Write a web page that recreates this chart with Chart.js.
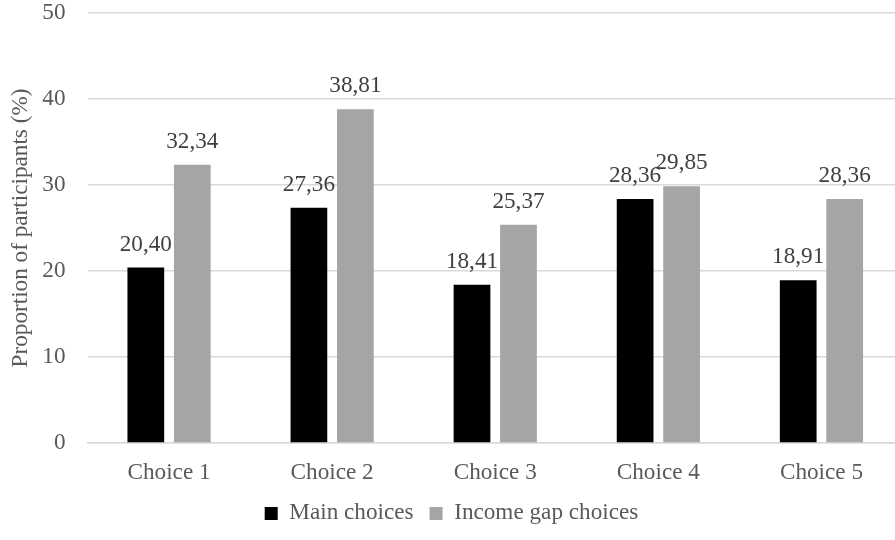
<!DOCTYPE html>
<html>
<head>
<meta charset="utf-8">
<script src="https://cdn.jsdelivr.net/npm/chart.js@4/dist/chart.umd.min.js"></script>
<style>
  html, body { margin: 0; padding: 0; background: #fff; overflow: hidden; }
  #wrap { width: 905px; height: 540px; position: relative; }
</style>
</head>
<body>
<div id="wrap"><canvas id="chart"></canvas></div>
<script>
const categories = ['Choice 1', 'Choice 2', 'Choice 3', 'Choice 4', 'Choice 5'];
const mainChoices = [20.40, 27.36, 18.41, 28.36, 18.91];
const incomeGapChoices = [32.34, 38.81, 25.37, 29.85, 28.36];
const yTicks = [0, 10, 20, 30, 40, 50];

const FONT = "'Liberation Serif', 'Times New Roman', serif";
const TEXT = '#595959';
const FS = 23.2;

// draw values above each bar (comma decimals)
const valueLabels = {
  id: 'valueLabels',
  afterDatasetsDraw(chart) {
    const ctx = chart.ctx;
    ctx.save();
    ctx.font = `${FS}px ${FONT}`;
    ctx.fillStyle = '#404040';
    ctx.textAlign = 'center';
    ctx.textBaseline = 'alphabetic';
    chart.data.datasets.forEach((ds, i) => {
      chart.getDatasetMeta(i).data.forEach((bar, j) => {
        const txt = ds.data[j].toFixed(2).replace('.', ',');
        ctx.fillText(txt, bar.x, bar.y - 17);
      });
    });
    ctx.restore();
  }
};

new Chart(document.getElementById('chart'), {
  type: 'bar',
  data: {
    labels: categories,
    datasets: [
      { label: 'Main choices', data: mainChoices, backgroundColor: '#000000',
        categoryPercentage: 0.57, barPercentage: 0.79 },
      { label: 'Income gap choices', data: incomeGapChoices, backgroundColor: '#a5a5a5',
        categoryPercentage: 0.57, barPercentage: 0.79 }
    ]
  },
  options: {
    responsive: true,
    maintainAspectRatio: false,
    animation: false,
    layout: { padding: { top: 13, right: 2, left: 0, bottom: 5 } },
    plugins: {
      tooltip: { enabled: false },
      legend: {
        position: 'bottom',
        labels: {
          font: { family: FONT, size: FS },
          color: TEXT,
          boxWidth: 13,
          boxHeight: 13,
          padding: 16
        }
      }
    },
    scales: {
      x: {
        afterFit(scale) { scale.height -= 9; },
        grid: { display: false },
        border: { color: '#d9d9d9', width: 1.5 },
        ticks: { font: { family: FONT, size: FS }, color: TEXT, padding: 8 }
      },
      y: {
        min: 0, max: 50,
        afterBuildTicks(scale) { scale.ticks = yTicks.map(v => ({ value: v })); },
        afterFit(scale) {
          scale.width = 87.5;
          scale.paddingTop = 0;
          scale.paddingBottom = 0;
        },
        grid: { color: '#d9d9d9', lineWidth: 1.5, drawTicks: false },
        border: { display: false },
        ticks: { font: { family: FONT, size: FS }, color: TEXT, padding: 22 },
        title: {
          display: true,
          text: 'Proportion of participants (%)',
          font: { family: FONT, size: FS },
          color: TEXT,
          padding: { top: 7, bottom: 0 }
        }
      }
    }
  },
  plugins: [valueLabels]
});
</script>
</body>
</html>
